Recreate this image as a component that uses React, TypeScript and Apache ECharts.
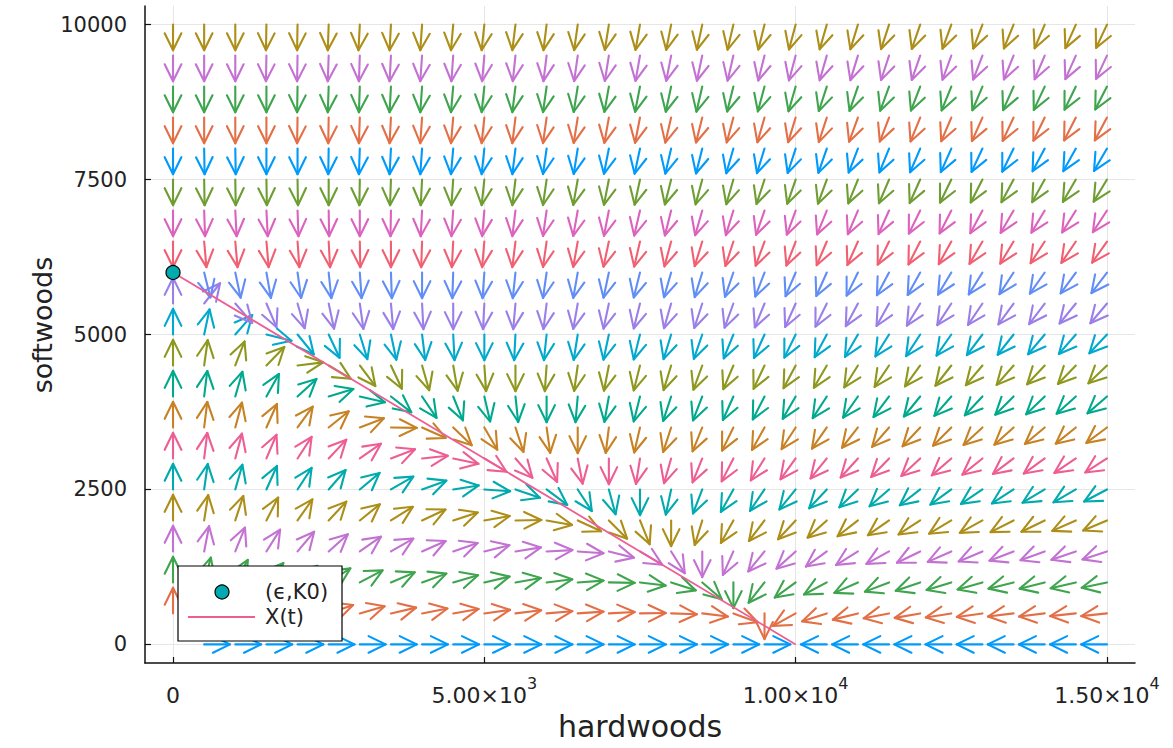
import React, { useEffect, useRef } from "react";
import * as echarts from "echarts";

// Grid of arrow tails (hardwoods on x, softwoods on y)
const X_GRID = [0, 500, 1000, 1500, 2000, 2500, 3000, 3500, 4000, 4500, 5000, 5500, 6000, 6500, 7000, 7500, 8000, 8500, 9000, 9500, 10000, 10500, 11000, 11500, 12000, 12500, 13000, 13500, 14000, 14500, 15000];
const Y_GRID = [0, 500, 1000, 1500, 2000, 2500, 3000, 3500, 4000, 4500, 5000, 5500, 6000, 6500, 7000, 7500, 8000, 8500, 9000, 9500, 10000];

// Arrow directions (degrees, 0 = right, 90 = up), one array per softwoods row; null = no arrow
const ANG_Y0 = [null, 0, 0, 0, 0, 0, 0, 0, 0, 0, 0, 0, 0, 0, 0, 0, 0, 0, 0, 0, null, 180, 180, 180, 180, 180, 180, 180, 180, 180, 180];
const ANG_Y500 = [90, 62, 43, 32, 24, 19, 16, 13, 11, 10, 8, 7, 5, 4, 3, 1, -2, -7, -20, -90, -151, -162, -166, -169, -170, -171, -172, -173, -173, -174, -174];
const ANG_Y1000 = [90, 75, 61, 49, 40, 33, 28, 23, 20, 16, 13, 10, 7, 4, -1, -7, -18, -41, -90, -128, -144, -152, -156, -159, -161, -163, -164, -166, -166, -167, -168];
const ANG_Y1500 = [90, 79, 68, 58, 50, 42, 35, 30, 24, 19, 14, 9, 3, -4, -14, -31, -58, -90, -114, -129, -138, -144, -148, -151, -154, -156, -157, -159, -160, -161, -162];
const ANG_Y2000 = [90, 81, 72, 63, 55, 47, 39, 32, 25, 18, 10, 1, -10, -25, -45, -68, -90, -107, -119, -127, -133, -138, -142, -145, -147, -149, -151, -153, -154, -156, -157];
const ANG_Y2500 = [90, 82, 74, 66, 57, 49, 40, 30, 20, 9, -4, -19, -37, -57, -75, -90, -102, -111, -119, -124, -129, -133, -136, -139, -142, -144, -146, -147, -149, -150, -152];
const ANG_Y3000 = [90, 83, 75, 67, 57, 47, 35, 21, 6, -12, -31, -49, -66, -79, -90, -99, -106, -112, -117, -122, -126, -129, -132, -134, -137, -139, -141, -143, -144, -146, -147];
const ANG_Y3500 = [90, 83, 75, 66, 54, 39, 21, -1, -24, -44, -60, -72, -82, -90, -97, -103, -108, -112, -116, -119, -123, -125, -128, -131, -133, -135, -137, -138, -140, -141, -143];
const ANG_Y4000 = [90, 83, 74, 61, 43, 17, -13, -38, -56, -68, -77, -84, -90, -95, -100, -104, -108, -111, -114, -117, -120, -123, -125, -127, -129, -131, -133, -135, -136, -138, -139];
const ANG_Y4500 = [90, 82, 69, 46, 7, -31, -53, -65, -74, -80, -86, -90, -94, -98, -101, -104, -107, -110, -113, -115, -118, -120, -122, -124, -126, -128, -130, -131, -133, -134, -136];
const ANG_Y5000 = [90, 78, 49, -14, -51, -65, -73, -78, -83, -87, -90, -93, -96, -99, -102, -104, -107, -109, -112, -114, -116, -118, -120, -122, -123, -125, -127, -128, -130, -131, -133];
const ANG_Y5500 = [90, 52, -49, -67, -74, -78, -82, -85, -87, -90, -93, -95, -97, -100, -102, -104, -106, -108, -110, -112, -114, -116, -118, -119, -121, -123, -124, -126, -127, -129, -130];
const ANG_Y6000 = [null, -76, -78, -80, -82, -84, -86, -88, -90, -92, -94, -96, -98, -100, -102, -104, -106, -107, -109, -111, -113, -114, -116, -118, -119, -121, -122, -123, -125, -126, -127];
const ANG_Y6500 = [-90, -85, -85, -85, -86, -87, -89, -90, -92, -93, -95, -97, -98, -100, -102, -103, -105, -107, -108, -110, -111, -113, -114, -116, -117, -119, -120, -121, -123, -124, -125];
const ANG_Y7000 = [-90, -88, -87, -87, -88, -89, -90, -91, -93, -94, -95, -97, -98, -100, -101, -103, -104, -106, -107, -109, -110, -112, -113, -114, -116, -117, -118, -120, -121, -122, -123];
const ANG_Y7500 = [-90, -89, -89, -89, -89, -90, -91, -92, -93, -94, -96, -97, -98, -100, -101, -102, -104, -105, -106, -108, -109, -110, -112, -113, -114, -116, -117, -118, -119, -120, -121];
const ANG_Y8000 = [-90, -89, -89, -90, -90, -91, -92, -93, -94, -95, -96, -97, -98, -99, -101, -102, -103, -104, -106, -107, -108, -109, -111, -112, -113, -114, -115, -116, -118, -119, -120];
const ANG_Y8500 = [-90, -90, -90, -90, -91, -91, -92, -93, -94, -95, -96, -97, -98, -99, -100, -101, -103, -104, -105, -106, -107, -108, -110, -111, -112, -113, -114, -115, -116, -117, -118];
const ANG_Y9000 = [-90, -90, -90, -90, -91, -92, -92, -93, -94, -95, -96, -97, -98, -99, -100, -101, -102, -103, -104, -105, -106, -108, -109, -110, -111, -112, -113, -114, -115, -116, -117];
const ANG_Y9500 = [-90, -90, -90, -91, -91, -92, -92, -93, -94, -94, -95, -96, -97, -98, -99, -100, -101, -102, -103, -104, -105, -106, -107, -108, -109, -110, -111, -112, -113, -114, -115];
const ANG_Y10000 = [-90, -90, -90, -91, -91, -92, -93, -93, -94, -95, -96, -97, -97, -98, -99, -100, -101, -102, -103, -104, -105, -106, -107, -108, -109, -110, -111, -112, -113, -114, -115];

const ROWS = [ANG_Y0, ANG_Y500, ANG_Y1000, ANG_Y1500, ANG_Y2000, ANG_Y2500, ANG_Y3000, ANG_Y3500, ANG_Y4000, ANG_Y4500, ANG_Y5000, ANG_Y5500, ANG_Y6000, ANG_Y6500, ANG_Y7000, ANG_Y7500, ANG_Y8000, ANG_Y8500, ANG_Y9000, ANG_Y9500, ANG_Y10000];

// Trajectory X(t) and starting point (ε, K0)
const TRAJ_X = [0, 2500, 5000, 7500, 10000];
const TRAJ_Y = [6000, 4500, 3000, 1500, 0];
const START_X = 0;
const START_Y = 6000;

const X_TICKS = [0, 5000, 10000, 15000];
const X_TICK_MANT = ["0", "5.00×10", "1.00×10", "1.50×10"];
const X_TICK_EXP = ["", "3", "4", "4"];
const Y_TICKS = [0, 2500, 5000, 7500, 10000];

const PALETTE = ["#009AFA", "#E36F47", "#3EA44E", "#C371D2", "#AC8E18", "#00AAAE", "#ED5E93", "#C68225", "#00A98D", "#8E971E", "#00A9CD", "#9B7FE9", "#618DF6", "#F16072", "#DC63BD", "#6E9E33"];

const ARROW_LEN = 415; // data units
const HEAD_LEN = 19; // px
const HEAD_ANG = (26 * Math.PI) / 180;
const FONT = "DejaVu Sans";

function renderArrow(params: any, api: any) {
  const x = api.value(0);
  const y = api.value(1);
  const a = (api.value(2) * Math.PI) / 180;
  const p0 = api.coord([x, y]);
  const p1 = api.coord([x + ARROW_LEN * Math.cos(a), y + ARROW_LEN * Math.sin(a)]);
  const dx = p1[0] - p0[0];
  const dy = p1[1] - p0[1];
  const len = Math.hypot(dx, dy) || 1;
  const bx = -dx / len;
  const by = -dy / len;
  const c = Math.cos(HEAD_ANG);
  const s = Math.sin(HEAD_ANG);
  const b1 = [p1[0] + HEAD_LEN * (bx * c - by * s), p1[1] + HEAD_LEN * (bx * s + by * c)];
  const b2 = [p1[0] + HEAD_LEN * (bx * c + by * s), p1[1] + HEAD_LEN * (-bx * s + by * c)];
  const color = api.visual("color");
  const style = { stroke: color, lineWidth: 2.1, fill: "none", lineCap: "round", lineJoin: "round" };
  return {
    type: "group",
    children: [
      { type: "line", shape: { x1: p0[0], y1: p0[1], x2: p1[0], y2: p1[1] }, style },
      { type: "polyline", shape: { points: [b1, p1, b2] }, style },
    ],
  };
}

export default function App() {
  const ref = useRef<HTMLDivElement>(null);
  useEffect(() => {
    const chart = echarts.init(ref.current!, null, { renderer: "svg" });

    const arrowSeries = ROWS.map((row, j) => ({
      type: "custom",
      name: "row" + Y_GRID[j],
      coordinateSystem: "cartesian2d",
      silent: true,
      clip: false,
      itemStyle: { color: PALETTE[j % PALETTE.length] },
      encode: { x: 0, y: 1 },
      data: row
        .map((ang, i) => (ang === null ? null : [X_GRID[i], Y_GRID[j], ang]))
        .filter((d) => d !== null),
      renderItem: renderArrow,
    }));

    const option: any = {
      animation: false,
      backgroundColor: "#ffffff",
      grid: { left: 145, right: 38, top: 6, bottom: 85, containLabel: false, outerBoundsMode: "none" },
      xAxis: {
        type: "value",
        min: -450,
        max: 15450,
        name: "hardwoods",
        nameLocation: "middle",
        nameGap: 48,
        nameTextStyle: { fontFamily: FONT, fontSize: 30, color: "#222" },
        axisLine: { show: true, onZero: false, lineStyle: { color: "#111", width: 1.5 } },
        axisTick: { show: true, inside: true, length: 6, customValues: X_TICKS, lineStyle: { color: "#111", width: 1.2 } },
        axisLabel: {
          customValues: X_TICKS,
          margin: 12,
          fontFamily: FONT,
          fontSize: 22,
          color: "#222",
          formatter: (v: number) => {
            const k = X_TICKS.indexOf(v);
            if (k < 0) return "";
            if (!X_TICK_EXP[k]) return "{m|" + X_TICK_MANT[k] + "}";
            return "{m|" + X_TICK_MANT[k] + "}{e|" + X_TICK_EXP[k] + "}";
          },
          rich: {
            m: { fontFamily: FONT, fontSize: 22, color: "#222", lineHeight: 31, verticalAlign: "bottom" },
            e: { fontFamily: FONT, fontSize: 16, color: "#222", lineHeight: 31, verticalAlign: "top" },
          },
        },
        splitLine: { show: true, lineStyle: { color: "#e6e6e6", width: 1 } },
      },
      yAxis: {
        type: "value",
        min: -300,
        max: 10300,
        axisLine: { show: true, onZero: false, lineStyle: { color: "#111", width: 1.5 } },
        axisTick: { show: true, inside: true, length: 6, customValues: Y_TICKS, lineStyle: { color: "#111", width: 1.2 } },
        axisLabel: {
          customValues: Y_TICKS,
          margin: 18,
          fontFamily: FONT,
          fontSize: 21,
          color: "#222",
          formatter: (v: number) => String(v),
        },
        splitLine: { show: true, lineStyle: { color: "#e6e6e6", width: 1 } },
      },
      series: [
        ...arrowSeries,
        {
          type: "scatter",
          name: "(ϵ,K0)",
          data: [[START_X, START_Y]],
          symbol: "circle",
          symbolSize: 14,
          silent: true,
          itemStyle: { color: "#00AAAE", borderColor: "#000", borderWidth: 1.2, opacity: 1 },
          z: 3,
        },
        {
          type: "line",
          name: "X(t)",
          data: TRAJ_X.map((x, k) => [x, TRAJ_Y[k]]),
          showSymbol: false,
          symbol: "none",
          silent: true,
          lineStyle: { color: "#ED5E93", width: 1.8 },
          z: 3,
        },
      ],
      graphic: [
        {
          type: "text",
          x: 42,
          y: 325,
          rotation: Math.PI / 2,
          z: 100,
          style: { text: "softwoods", fontFamily: FONT, fontSize: 27, fill: "#222", align: "center", verticalAlign: "middle" },
        },
        { type: "rect", z: 100, shape: { x: 178, y: 566, width: 164, height: 75 }, style: { fill: "#fff", stroke: "#000", lineWidth: 1.2 } },
        { type: "circle", z: 101, shape: { cx: 222, cy: 592, r: 7 }, style: { fill: "#00AAAE", stroke: "#000", lineWidth: 1.2 } },
        { type: "text", z: 101, x: 265, y: 592, style: { text: "(ϵ,K0)", fontFamily: FONT, fontSize: 21, fill: "#222", verticalAlign: "middle" } },
        { type: "line", z: 101, shape: { x1: 188, y1: 617, x2: 255, y2: 617 }, style: { stroke: "#ED5E93", lineWidth: 1.8 } },
        { type: "text", z: 101, x: 265, y: 617, style: { text: "X(t)", fontFamily: FONT, fontSize: 21, fill: "#222", verticalAlign: "middle" } },
      ],
    };
    chart.setOption(option);
    return () => chart.dispose();
  }, []);
  return (
    <div
      ref={ref}
      style={{ position: "fixed", left: 0, top: 0, width: 1173, height: 748, background: "#fff" }}
    />
  );
}
